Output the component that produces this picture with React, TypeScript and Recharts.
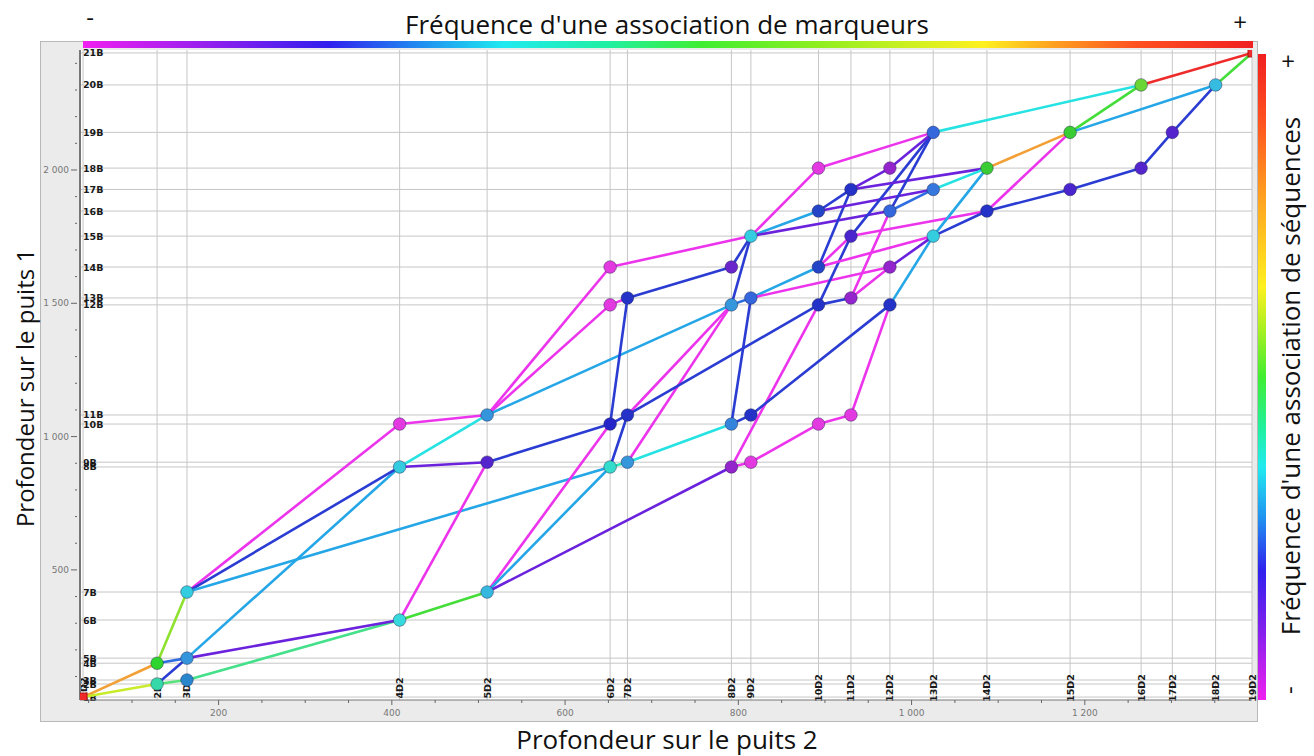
import React from "react";
import { ComposedChart, Scatter, XAxis, YAxis, ReferenceLine } from "recharts";

// repères du puits 2 (axe horizontal)
const d2Labels = [
  "1D2", "2D2", "3D2", "4D2", "5D2", "6D2", "7D2", "8D2", "9D2", "10D2",
  "11D2", "12D2", "13D2", "14D2", "15D2", "16D2", "17D2", "18D2", "19D2",
];
const d2Depths = [
  43.5, 129, 163.5, 409, 510, 652, 672, 792, 814.5, 892.5,
  930, 975, 1025, 1087, 1183, 1265, 1301, 1351, 1393,
];

// repères du puits 1 (axe vertical)
const bLabels = [
  "1B", "2B", "3B", "4B", "5B", "6B", "7B", "8B", "9B", "10B", "11B",
  "12B", "13B", "14B", "15B", "16B", "17B", "18B", "19B", "20B", "21B",
];
const bDepths = [
  23, 72, 87, 150, 169, 312, 417, 886, 904, 1047, 1081,
  1494, 1520, 1636, 1752, 1846, 1927, 2007, 2141, 2319, 2439,
];

const xTicks = [200, 400, 600, 800, 1000, 1200];
const yTicks = [500, 1000, 1500, 2000];

const M = "#ec34ec";
const P = "#6a22dc";
const DB = "#2a3cd2";
const B = "#2f6ee0";
const LB = "#25a6e6";
const C = "#27e2e2";
const T = "#2aeab8";
const G = "#45dd3a";
const O = "#f2a036";
const R = "#ee2a2a";

// [puits 2, puits 1, couleur]
const nodes: [number, number, string][] = [
  [1, 1, R], [2, 2, "#35d8a8"], [2, 4, "#2fd52f"], [3, 3, "#2a86cc"], [3, 5, "#3595dc"], [3, 7, "#34cde0"],
  [4, 6, "#36d9dc"], [4, 8, "#34cbe0"], [4, 10, "#e23ae0"],
  [5, 7, "#35b8e0"], [5, 9, "#5424cc"], [5, 11, "#3494dc"],
  [6, 8, "#34dccb"], [6, 10, "#2424c8"], [6, 12, "#e23ae0"], [6, 14, "#e23ae0"],
  [7, 9, "#3596dc"], [7, 11, "#2432c8"], [7, 13, "#2432c8"],
  [8, 8, "#9424cc"], [8, 10, "#3584dc"], [8, 12, "#3596dc"], [8, 14, "#6a24cc"],
  [9, 9, "#e23ae0"], [9, 11, "#2432c8"], [9, 13, "#3466dc"], [9, 15, "#34cde0"],
  [10, 10, "#e23ae0"], [10, 12, "#2432c8"], [10, 14, "#2444c8"], [10, 16, "#2444c8"], [10, 18, "#e23ae0"],
  [11, 11, "#e23ae0"], [11, 13, "#9424cc"], [11, 15, "#4a24cc"], [11, 17, "#2432c8"],
  [12, 12, "#2432c8"], [12, 14, "#9424cc"], [12, 16, "#3466dc"], [12, 18, "#9424cc"],
  [13, 15, "#34cde0"], [13, 17, "#3577dc"], [13, 19, "#3466dc"],
  [14, 16, "#2432c8"], [14, 18, "#39cc33"],
  [15, 17, "#4a24cc"], [15, 19, "#39cc33"],
  [16, 18, "#5424cc"], [16, 20, "#6ad636"],
  [17, 19, "#5424cc"], [18, 20, "#35bce0"], [19, 21, R],
];

// [puits 2 début, puits 1 début, puits 2 fin, puits 1 fin, couleur]
const segments: [number, number, number, number, string][] = [
  [1, 1, 2, 4, O], [1, 1, 2, 2, "#c8ec2a"], [2, 2, 3, 3, "#58e27a"], [2, 2, 3, 5, DB],
  [2, 4, 3, 5, B], [2, 4, 3, 7, "#8ee22e"], [3, 3, 4, 6, "#44e08a"],
  [3, 5, 4, 8, LB], [3, 5, 4, 6, P], [3, 7, 4, 10, M], [3, 7, 4, 8, DB], [3, 7, 6, 8, LB],
  [4, 10, 5, 11, M], [4, 8, 5, 11, C], [4, 8, 5, 9, P], [4, 6, 5, 9, M], [4, 6, 5, 7, G],
  [5, 9, 6, 10, DB], [5, 7, 6, 10, M], [5, 7, 6, 8, LB], [5, 7, 8, 8, P],
  [5, 11, 6, 14, M], [5, 11, 6, 12, M], [5, 11, 8, 12, LB],
  [6, 10, 7, 11, DB], [6, 10, 7, 13, DB], [6, 8, 7, 9, T], [6, 8, 7, 11, DB],
  [7, 9, 8, 10, C], [7, 9, 8, 12, M], [7, 11, 8, 12, M], [7, 11, 10, 12, DB],
  [6, 12, 7, 13, M], [6, 14, 9, 15, M], [7, 13, 8, 14, DB],
  [8, 8, 9, 9, M], [8, 8, 10, 12, M], [8, 10, 9, 11, DB], [8, 10, 9, 13, DB],
  [8, 12, 9, 13, B], [8, 12, 9, 15, DB], [8, 14, 9, 15, DB],
  [9, 9, 10, 10, M], [9, 11, 12, 12, DB], [9, 13, 10, 14, LB], [9, 13, 12, 14, M],
  [9, 15, 10, 16, LB], [9, 15, 10, 18, M], [9, 15, 12, 16, P],
  [10, 10, 11, 11, M], [10, 12, 11, 13, DB], [10, 12, 11, 15, DB],
  [10, 14, 11, 17, DB], [10, 14, 11, 15, M], [10, 14, 13, 15, M],
  [10, 16, 11, 17, DB], [10, 16, 13, 17, P], [10, 18, 13, 19, M],
  [11, 11, 12, 12, M], [11, 13, 12, 14, M], [11, 13, 12, 16, M],
  [11, 15, 14, 16, M], [11, 15, 13, 19, DB], [11, 17, 12, 18, P], [11, 17, 14, 18, P],
  [12, 12, 13, 15, LB], [12, 14, 13, 15, P], [12, 16, 13, 17, B], [12, 16, 13, 19, DB],
  [12, 18, 13, 19, P], [13, 15, 14, 16, DB], [13, 15, 14, 18, LB], [13, 17, 14, 18, C],
  [13, 19, 16, 20, C], [14, 16, 15, 17, DB], [14, 16, 15, 19, M], [14, 18, 15, 19, O],
  [15, 17, 16, 18, DB], [15, 19, 16, 20, G], [15, 19, 18, 20, LB],
  [16, 18, 17, 19, DB], [17, 19, 18, 20, DB], [16, 20, 19, 21, R], [18, 20, 19, 21, G],
];

const fmt = (v: number) => String(v).replace(/\B(?=(\d{3})+(?!\d))/g, " ");

const minorX: number[] = [];
for (let v = 50; v <= 1350; v += 50) minorX.push(v);
const minorY: number[] = [];
for (let v = 100; v <= 2400; v += 100) minorY.push(v);

const XTick = (props: any) => {
  const { x, y, payload } = props;
  const major = xTicks.includes(payload.value);
  return (
    <g>
      <line x1={x} x2={x} y1={y} y2={y + (major ? 5 : 3)} stroke="#666" />
      {major && (
        <text x={x} y={y + 16} textAnchor="middle" fontSize={9} fill="#777" fontFamily="DejaVu Sans">
          {fmt(payload.value)}
        </text>
      )}
    </g>
  );
};

const YTick = (props: any) => {
  const { x, y, payload } = props;
  const major = yTicks.includes(payload.value);
  return (
    <g>
      <line x1={x - 3} x2={x - (major ? 9 : 5)} y1={y} y2={y} stroke="#666" />
      {major && (
        <text x={x - 11} y={y + 3} textAnchor="end" fontSize={9} fill="#777" fontFamily="DejaVu Sans">
          {fmt(payload.value)}
        </text>
      )}
    </g>
  );
};

const BLabel = ({ viewBox, value }: any) => (
  <text x={viewBox.x + 3} y={viewBox.y + 3.5} fontSize={9.5} fontWeight="bold" fill="#1a1a1a" fontFamily="DejaVu Sans">
    {value}
  </text>
);

const D2Label = ({ viewBox, value }: any) => {
  const cx = viewBox.x + 3.5;
  const cy = viewBox.y + viewBox.height - 12;
  return (
    <text
      x={cx}
      y={cy}
      transform={`rotate(-90 ${cx} ${cy})`}
      textAnchor="middle"
      fontSize={9.5}
      fontWeight="bold"
      fill="#1a1a1a"
      fontFamily="DejaVu Sans"
    >
      {value}
    </text>
  );
};

const NodeShape = (props: any) => {
  const { cx, cy, payload } = props;
  if (payload.color === R) {
    return <rect x={cx - 4} y={cy - 4} width={8} height={8} fill={R} stroke="#b01010" strokeWidth={1} />;
  }
  return <circle cx={cx} cy={cy} r={6.3} fill={payload.color} stroke="rgba(40,40,80,0.45)" strokeWidth={1} />;
};

const Empty = () => <g />;

const topGradient =
  "linear-gradient(to right, #f020f0 0%, #9a20ee 10%, #3020ee 21%, #2090f0 29%, #20eaf0 36%, #20f0a0 45%, #40ee30 53%, #90ee20 63%, #d8f020 72%, #fff020 77%, #ffa020 83%, #ff5020 90%, #f02020 100%)";
const sideGradient =
  "linear-gradient(to bottom, #f02020 0%, #ff5020 10%, #ffa020 22%, #fff020 36%, #b0f020 42%, #40ee30 50%, #20f0a0 58%, #20eaf0 64%, #2090f0 72%, #3020ee 80%, #8a20ee 90%, #f020f0 100%)";

export default function App() {
  const nodeData = nodes.map(([d, b, color]) => ({ x: d2Depths[d - 1], y: bDepths[b - 1], color }));
  return (
    <div style={{ position: "absolute", left: 0, top: 0, width: 1314, height: 756, background: "#fff", overflow: "hidden" }}>
      <div style={{ position: "absolute", left: 40, top: 41, width: 1218, height: 681, background: "#ebebeb", border: "1px solid #b8b8b8", boxSizing: "border-box" }} />
      <div style={{ position: "absolute", left: 80, top: 50, width: 1172, height: 650, background: "#fff" }} />
      <div style={{ position: "absolute", left: 83, top: 41, width: 1170, height: 7, background: topGradient }} />
      <div style={{ position: "absolute", left: 1258, top: 54, width: 8, height: 646, background: sideGradient }} />
      <div style={{ position: "absolute", left: 0, top: 0 }}>
        <ComposedChart width={1314} height={756} margin={{ top: 50, right: 62, bottom: 0, left: 0 }}>
          <XAxis
            type="number"
            dataKey="x"
            domain={[40, 1393]}
            allowDataOverflow
            ticks={minorX}
            interval={0}
            height={56}
            tickSize={0}
            tickMargin={0}
            tick={<XTick />}
            axisLine={{ stroke: "#777" }}
          />
          <YAxis
            type="number"
            dataKey="y"
            domain={[12, 2450]}
            allowDataOverflow
            ticks={minorY}
            interval={0}
            width={80}
            tickSize={0}
            tickMargin={0}
            tick={<YTick />}
            axisLine={{ stroke: "#777", strokeWidth: 2 }}
          />
          {bDepths.map((v, i) => (
            <ReferenceLine
              key={"b" + i}
              y={v}
              stroke="#c6c6c6"
              strokeWidth={1}
              label={(p: any) => <BLabel {...p} value={bLabels[i]} />}
            />
          ))}
          {d2Depths.map((v, i) => (
            <ReferenceLine
              key={"d" + i}
              x={v}
              stroke="#c6c6c6"
              strokeWidth={1}
              label={(p: any) => <D2Label {...p} value={d2Labels[i]} />}
            />
          ))}
          {segments.map(([d1, b1, d2, b2, color], i) => (
            <Scatter
              key={"s" + i}
              data={[
                { x: d2Depths[d1 - 1], y: bDepths[b1 - 1] },
                { x: d2Depths[d2 - 1], y: bDepths[b2 - 1] },
              ]}
              fill={color}
              line={{ stroke: color, strokeWidth: 2.6 }}
              shape={<Empty />}
              isAnimationActive={false}
            />
          ))}
          <Scatter data={nodeData} fill="#888" shape={<NodeShape />} isAnimationActive={false} />
        </ComposedChart>
      </div>
      <svg width={1314} height={756} style={{ position: "absolute", left: 0, top: 0, pointerEvents: "none" }} fontFamily="'Open Sans', sans-serif" fill="#111">
        <text x={667} y={34} textAnchor="middle" fontSize={26}>Fréquence d'une association de marqueurs</text>
        <text x={90} y={26} textAnchor="middle" fontSize={24}>-</text>
        <text x={1240} y={31} textAnchor="middle" fontSize={24}>+</text>
        <text x={24} y={388} textAnchor="middle" dominantBaseline="central" fontSize={24} transform="rotate(-90 24 388)">
          Profondeur sur le puits 1
        </text>
        <text x={667} y={749} textAnchor="middle" fontSize={26}>Profondeur sur le puits 2</text>
        <text x={1290} y={376} textAnchor="middle" dominantBaseline="central" fontSize={26} transform="rotate(-90 1290 376)">
          Fréquence d'une association de séquences
        </text>
        <text x={1288} y={70} textAnchor="middle" fontSize={24}>+</text>
        <text x={1288} y={690} textAnchor="middle" dominantBaseline="central" fontSize={24} transform="rotate(-90 1288 690)">-</text>
      </svg>
    </div>
  );
}
